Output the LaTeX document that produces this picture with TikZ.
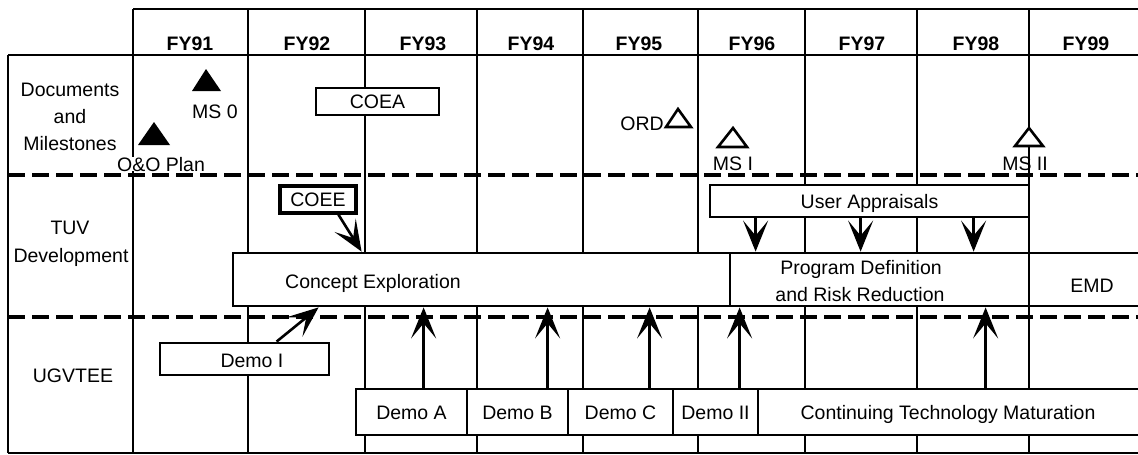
\documentclass[tikz,border=0pt]{standalone}
\usepackage{fontspec}
\setmainfont{Liberation Sans}
\usetikzlibrary{arrows.meta}
\newcommand\txtsize{\fontsize{19.5pt}{23pt}\selectfont}
\begin{document}
\begin{tikzpicture}[x=1pt,y=-1pt,
  gridline/.style={line width=2.8pt},
  sepline/.style={line width=3.2pt, dash pattern=on 17pt off 7pt},
  lbl/.style={inner sep=0pt, text height=14pt, text depth=0pt, font=\txtsize},
  hdr/.style={lbl, font=\txtsize\bfseries},
  box/.style={draw, fill=white, line width=2.8pt, inner sep=0pt, font=\txtsize, text height=14pt, text depth=0pt},
  arr/.style={line width=2.6pt, -{Stealth[length=31pt,width=25pt,inset=15pt]}},
  msopen/.style={draw, fill=white, line width=2.6pt, line join=miter},
]
\useasboundingbox (0,0) rectangle (1138,455);
% grid
\draw[gridline] (133,9) -- (1138,9);
\draw[gridline] (8,55) -- (1138,55);
\draw[gridline] (8,453) -- (1138,453);
\draw[gridline] (8,55) -- (8,453);
\foreach \x in {133,248,365,477,583,698,805,917,1029} \draw[gridline] (\x,9) -- (\x,453);
\draw[sepline] (8,175) -- (1138,175);
\draw[sepline] (8,317) -- (1138,317);
% header
\foreach \x/\t [count=\i] in {190/FY91,307/FY92,423/FY93,531/FY94,639/FY95,752/FY96,862/FY97,976/FY98,1086/FY99}
  \node[hdr] (fy\i) at (\x,43) {\t};
% row labels
\node[lbl] (rdoc1) at (70,89) {Documents};
\node[lbl] (rdoc2) at (70,116) {and};
\node[lbl] (rdoc3) at (70,143) {Milestones};
\node[lbl] (rtuv1) at (70,227) {TUV};
\node[lbl] (rtuv2) at (71,255) {Development};
\node[lbl] (rugv) at (73,375) {UGVTEE};
% boxes
\node[box, minimum width=123, minimum height=27] (coea) at (377.5,101.5) {COEA};
\node[box, line width=3.2pt, minimum width=76, minimum height=27] (coee) at (318,199.5) {COEE};
\node[box, minimum width=319, minimum height=32] (ua) at (869.5,201) {User Appraisals};
\node[box, minimum width=497, minimum height=53] (ce) at (481.5,279.5) {};
\node[lbl] (cet) at (373,281) {Concept Exploration};
\node[box, minimum width=299, minimum height=53] (pd) at (879.5,279.5) {};
\node[lbl] (pdt1) at (861,267) {Program Definition};
\node[lbl] (pdt2) at (860,294) {and Risk Reduction};
\node[box, minimum width=140, minimum height=53] (emd) at (1099,279.5) {};
\node[lbl] (emdt) at (1092,285) {EMD};
\node[box, minimum width=169, minimum height=32] (demoI) at (244.5,359) {};
\node[lbl] (demoIt) at (252,360.5) {Demo I};
\node[box, minimum width=111, minimum height=46] (demoA) at (411.5,412) {Demo A};
\node[box, minimum width=101, minimum height=46] (demoB) at (517.5,412) {Demo B};
\node[box, minimum width=105, minimum height=46] (demoC) at (620.5,412) {Demo C};
\node[box, minimum width=85, minimum height=46] (demoII) at (715.5,412) {Demo II};
\node[box, minimum width=412, minimum height=46] (ctm) at (964,412) {};
\node[lbl] (ctmt) at (948,412.5) {Continuing Technology Maturation};
% milestones
\fill (206,69) -- (221,91) -- (192,91) -- cycle;
\fill (154,122) -- (170,145) -- (138,145) -- cycle;
\draw[msopen] (678,109) -- (691,127) -- (666,127) -- cycle;
\draw[msopen] (733,128) -- (747,147) -- (718,147) -- cycle;
\draw[msopen] (1029,128) -- (1043,146) -- (1015,146) -- cycle;
\node[lbl] (ms0) at (215,111) {MS 0};
\node[lbl, fill=white] (oo) at (161,164) {O\&O Plan};
\node[lbl, anchor=east] (ord) at (664,123) {ORD};
\node[lbl] (ms1) at (733,163) {MS I};
\node[lbl] (ms2) at (1025,163) {MS II};
% arrows
\draw[arr] ([xshift=60pt]coee.south west) -- ([xshift=130pt]ce.north west);
\draw[arr] ([xshift=118pt]demoI.north west) -- ([xshift=87pt]ce.south west);
\foreach \a/\b in {47/27,152/132,265/245}
  \draw[arr] ([xshift=\a pt]ua.south west) -- ([xshift=\b pt]pd.north west);
\draw[arr] ([xshift=69pt]demoA.north west) -- ([xshift=192pt]ce.south west);
\draw[arr] ([xshift=82pt]demoB.north west) -- ([xshift=316pt]ce.south west);
\draw[arr] ([xshift=83pt]demoC.north west) -- ([xshift=418pt]ce.south west);
\draw[arr] ([xshift=68pt]demoII.north west) -- ([xshift=11pt]pd.south west);
\draw[arr] ([xshift=229pt]ctm.north west) -- ([xshift=257pt]pd.south west);
\end{tikzpicture}
\end{document}
